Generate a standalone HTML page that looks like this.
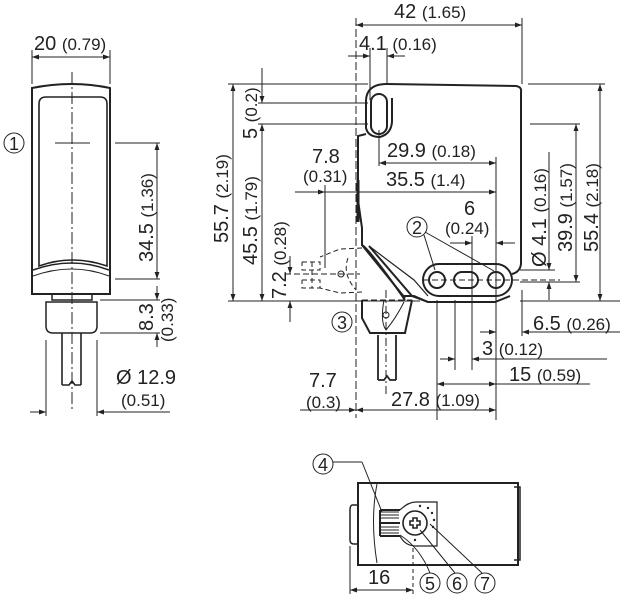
<!DOCTYPE html>
<html><head><style>
html,body{margin:0;padding:0;background:#fff;}
svg{display:block;}
text{font-family:"Liberation Sans",sans-serif;fill:#222;}
.d{font-size:20px;}
.s{font-size:17px;}
.c{font-size:18px;text-anchor:middle;}
</style></head><body>
<svg width="620" height="600" viewBox="0 0 620 600" xmlns="http://www.w3.org/2000/svg">
<defs>
<marker id="a" viewBox="0 0 10 10" refX="10" refY="5" markerWidth="9" markerHeight="7" orient="auto-start-reverse" markerUnits="userSpaceOnUse"><path d="M0,1.5L10,5L0,8.5z" fill="#222"/></marker>
</defs>
<g stroke="#222" fill="none" stroke-width="1">
<line x1="32" y1="50" x2="32" y2="84"/><line x1="110" y1="50" x2="110" y2="84"/>
<line x1="32" y1="57" x2="110" y2="57" marker-start="url(#a)" marker-end="url(#a)"/>
<path d="M32,88 Q72,80 110,88 L110,294 L32,294 Z" stroke-width="2"/>
<path d="M39,104 Q39,97 46,97 L100,97 Q107,97 107,104 L107,266 Q72,254 39,266 Z" stroke-width="1.6"/>
<path d="M33,270 Q72,256 109,270" stroke-width="1.5"/><path d="M33,276 Q72,262 109,276"/>
<path d="M52,294 L52,300 L92,300 L92,294 M46,302 L97,302 L97,326 Q97,333 90,333 L53,333 Q46,333 46,326 Z" stroke-width="1.5"/>
<path d="M62,333 L62,385 M81,333 L81,385 M62,385 L69,385 L72,381 L75,385 L81,385" stroke-width="1.6"/>
<line x1="72" y1="72" x2="72" y2="412" stroke-dasharray="12,3,2,3"/>
<line x1="55" y1="143" x2="90" y2="143"/>
<circle cx="14" cy="143" r="10"/>
<line x1="115" y1="143" x2="160" y2="143"/><line x1="115" y1="279" x2="160" y2="279"/>
<line x1="157" y1="143" x2="157" y2="279" marker-start="url(#a)" marker-end="url(#a)"/>
<line x1="100" y1="300" x2="160" y2="300"/><line x1="100" y1="333" x2="160" y2="333"/>
<line x1="157" y1="286" x2="157" y2="300" marker-end="url(#a)"/><line x1="157" y1="347" x2="157" y2="333" marker-end="url(#a)"/>
<line x1="46" y1="340" x2="46" y2="416"/><line x1="97" y1="340" x2="97" y2="416"/>
<line x1="30" y1="412" x2="46" y2="412" marker-end="url(#a)"/><line x1="170" y1="412" x2="97" y2="412" marker-end="url(#a)"/>

<line x1="356" y1="18" x2="356" y2="418" stroke-dasharray="8,3"/>
<line x1="522" y1="18" x2="522" y2="84"/>
<line x1="356" y1="25" x2="522" y2="25" marker-start="url(#a)" marker-end="url(#a)"/>
<line x1="370" y1="48" x2="370" y2="100"/><line x1="387" y1="48" x2="387" y2="84"/>
<line x1="348" y1="56" x2="370" y2="56" marker-end="url(#a)"/><line x1="405" y1="56" x2="387" y2="56" marker-end="url(#a)"/>
<path d="M387,84 L516,86 Q522,87 521,92 L521,264 Q520,272 512,274 M510,296 L495,302 L428,302 L414,296 L404,296" stroke-width="2"/>
<path d="M387,84 Q367,84 366,100 L366,128 Q368,137 380,137 Q391,134 392,122 L392,98" stroke-width="2"/>
<rect x="371" y="94" width="16" height="40" rx="8" stroke-width="2"/>
<path d="M366,134 L358,136 L358,200 L362,228 L362,245 Q370,250 405,300" stroke-width="2"/>
<line x1="358" y1="180" x2="358" y2="222" stroke-width="3"/>
<path d="M362,245 L405,298 M369,246 L412,296 L428,302" stroke-width="2"/>
<path d="M369,246 L414,280 L428,296" stroke-width="1.2"/>
<path d="M362,300 L362,318 L370,333 L405,333 L412,300" stroke-width="2"/>
<path d="M362,300 L412,300" stroke-dasharray="6,3"/>
<path d="M384,300 Q380,322 386,330 Q396,318 404,302" />
<circle cx="386" cy="315" r="3"/>
<path d="M378,335 L378,380 M396,335 L396,380 M378,380 L384,380 L387,376 L390,380 L396,380" stroke-width="1.8"/>
<line x1="386" y1="290" x2="386" y2="395" stroke-dasharray="8,3,2,3"/>
<path d="M362,248 L340,249 L320,257 M362,292 L340,293 L320,288 M302,262 L320,262 L320,270 L302,270 L302,262 M302,280 L320,280 L320,288 L302,288 L302,280 M312,262 L312,288" stroke-dasharray="5,3"/>
<circle cx="341" cy="274" r="3"/><path d="M348,258 Q342,274 356,290" stroke-dasharray="5,3"/>
<line x1="285" y1="274" x2="360" y2="274" stroke-dasharray="6,3"/>
<rect x="423" y="264" width="89" height="32" rx="16" stroke-width="2"/>
<circle cx="437" cy="280" r="8" stroke-width="2"/>
<rect x="454" y="272" width="24" height="16" rx="8" stroke-width="2"/>
<circle cx="496" cy="280" r="8" stroke-width="2"/>
<line x1="423" y1="280" x2="560" y2="280" stroke-dasharray="6,3"/>
<circle cx="417" cy="227" r="10"/>
<line x1="424" y1="235" x2="435" y2="270"/><line x1="425" y1="232" x2="494" y2="271"/>
<line x1="228" y1="84" x2="368" y2="84"/><line x1="258" y1="103" x2="368" y2="103"/>
<line x1="258" y1="124" x2="368" y2="124"/><line x1="228" y1="301" x2="420" y2="301"/>
<line x1="233" y1="84" x2="233" y2="301" marker-start="url(#a)" marker-end="url(#a)"/>
<line x1="262" y1="124" x2="262" y2="301" marker-start="url(#a)" marker-end="url(#a)"/>
<line x1="262" y1="68" x2="262" y2="103" marker-end="url(#a)"/>
<line x1="290" y1="256" x2="290" y2="274" marker-end="url(#a)"/><line x1="290" y1="322" x2="290" y2="301" marker-end="url(#a)"/>
<line x1="528" y1="84" x2="605" y2="84"/><line x1="530" y1="124" x2="580" y2="124"/>
<line x1="520" y1="270" x2="555" y2="270"/><line x1="520" y1="282" x2="580" y2="282"/>
<line x1="600" y1="84" x2="600" y2="301" marker-start="url(#a)" marker-end="url(#a)"/>
<line x1="576" y1="124" x2="576" y2="282" marker-start="url(#a)" marker-end="url(#a)"/>
<line x1="549" y1="152" x2="549" y2="270" marker-end="url(#a)"/><line x1="549" y1="300" x2="549" y2="282" marker-end="url(#a)"/>
<line x1="520" y1="301" x2="620" y2="301"/>
<line x1="379" y1="130" x2="379" y2="166"/>
<line x1="496" y1="157" x2="496" y2="420"/>
<line x1="496" y1="163" x2="379" y2="163" marker-end="url(#a)"/><line x1="379" y1="163" x2="496" y2="163" marker-end="url(#a)"/>
<line x1="325" y1="185" x2="325" y2="268"/>
<line x1="295" y1="192" x2="325" y2="192" marker-end="url(#a)"/><line x1="325" y1="192" x2="496" y2="192" marker-end="url(#a)"/>
<line x1="472" y1="236" x2="472" y2="370"/>
<line x1="450" y1="243" x2="472" y2="243" marker-end="url(#a)"/><line x1="515" y1="243" x2="496" y2="243" marker-end="url(#a)"/>
<line x1="522" y1="290" x2="522" y2="336"/>
<line x1="480" y1="332" x2="496" y2="332" marker-end="url(#a)"/><line x1="620" y1="332" x2="522" y2="332" marker-end="url(#a)"/>
<line x1="437" y1="300" x2="437" y2="420"/><line x1="455" y1="300" x2="455" y2="370"/>
<line x1="440" y1="359" x2="455" y2="359" marker-end="url(#a)"/><line x1="607" y1="359" x2="472" y2="359" marker-end="url(#a)"/>
<line x1="437" y1="384" x2="496" y2="384" marker-start="url(#a)" marker-end="url(#a)"/><line x1="496" y1="384" x2="590" y2="384"/>
<line x1="300" y1="410" x2="356" y2="410" marker-end="url(#a)"/>
<line x1="356" y1="410" x2="496" y2="410" marker-start="url(#a)" marker-end="url(#a)"/>
<circle cx="342" cy="322" r="10"/>

<path d="M358,483 L518,483 L518,565 L358,565 Z" stroke-width="2"/>
<path d="M514,487 L520,487 L520,560 L514,560" stroke-width="1.5"/>
<path d="M358,505 L352,505 Q350,506 350,510 L350,540 Q350,544 354,544 L358,544" stroke-width="1.5"/>
<path d="M377,484 Q370,520 377,563"/>
<path d="M380,510 L400,510 M380,536 L400,536 M380,510 L380,536 M380,523 L400,523" stroke-width="2"/>
<path d="M381,512 L399,512 M381,515 L399,515 M381,518 L399,518 M381,527 L399,527 M381,530 L399,530 M381,533 L399,533" stroke-width="1"/>
<path d="M400,510 Q408,502 416,502 L437,502 L437,546 L416,546 Q405,546 400,536" stroke-width="1.2"/>
<circle cx="415" cy="523" r="12" stroke-width="1.6"/>
<path d="M410,521 L413,521 L413,518 L417,518 L417,521 L420,521 L420,525 L417,525 L417,528 L413,528 L413,525 L410,525 Z" stroke-width="1.6"/>
<line x1="413" y1="548" x2="413" y2="594" stroke-dasharray="4,3"/>
<line x1="350" y1="546" x2="350" y2="594"/>
<line x1="350" y1="590" x2="413" y2="590" marker-start="url(#a)" marker-end="url(#a)"/>
<circle cx="323" cy="464" r="10"/><line x1="333" y1="462" x2="362" y2="462"/><line x1="362" y1="462" x2="382" y2="512"/>
<circle cx="430" cy="583" r="10"/><circle cx="457" cy="583" r="10"/><circle cx="485" cy="583" r="10"/>
<path d="M400,535 Q420,548 430,573"/><line x1="420" y1="530" x2="455" y2="573"/><line x1="430" y1="524" x2="482" y2="573"/>
</g>
<g fill="#222" stroke="none">
<circle cx="432" cy="513" r="1.2"/><circle cx="428" cy="508" r="1.2"/><circle cx="420" cy="506" r="1.2"/><circle cx="434" cy="520" r="1.2"/><circle cx="433" cy="527" r="1.2"/><circle cx="415" cy="540" r="1.2"/>
</g>
<text class="d" x="34" y="50">20 <tspan style="font-size:17px">(0.79)</tspan></text>
<text class="c" x="14" y="150">1</text>
<text class="d" transform="translate(153,262) rotate(-90)">34.5 <tspan style="font-size:17px">(1.36)</tspan></text>
<text class="d" transform="translate(153,331) rotate(-90)">8.3</text>
<text class="s" transform="translate(173,342) rotate(-90)">(0.33)</text>
<text class="d" x="116" y="384">Ø 12.9</text>
<text class="s" x="121" y="406">(0.51)</text>

<text class="d" x="394" y="18">42 <tspan style="font-size:17px">(1.65)</tspan></text>
<text class="d" x="359" y="50">4.1 <tspan style="font-size:17px">(0.16)</tspan></text>
<text class="d" transform="translate(228,243) rotate(-90)">55.7 <tspan style="font-size:17px">(2.19)</tspan></text>
<text class="d" transform="translate(257,265) rotate(-90)">45.5 <tspan style="font-size:17px">(1.79)</tspan></text>
<text class="d" transform="translate(257,139) rotate(-90)">5 <tspan style="font-size:17px">(0.2)</tspan></text>
<text class="d" transform="translate(286,299) rotate(-90)">7.2 <tspan style="font-size:17px">(0.28)</tspan></text>
<text class="d" x="312" y="163">7.8</text>
<text class="s" x="303" y="182">(0.31)</text>
<text class="d" x="387" y="157">29.9 <tspan style="font-size:17px">(0.18)</tspan></text>
<text class="d" x="386" y="186">35.5 <tspan style="font-size:17px">(1.4)</tspan></text>
<text class="d" x="464" y="215">6</text>
<text class="s" x="445" y="234">(0.24)</text>
<text class="c" x="417" y="234">2</text>
<text class="d" transform="translate(546,267) rotate(-90)">Ø 4.1 <tspan style="font-size:17px">(0.16)</tspan></text>
<text class="d" transform="translate(572,252) rotate(-90)">39.9 <tspan style="font-size:17px">(1.57)</tspan></text>
<text class="d" transform="translate(598,252) rotate(-90)">55.4 <tspan style="font-size:17px">(2.18)</tspan></text>
<text class="c" x="342" y="329">3</text>
<text class="d" x="533" y="330">6.5 <tspan style="font-size:17px">(0.26)</tspan></text>
<text class="d" x="482" y="355">3 <tspan style="font-size:17px">(0.12)</tspan></text>
<text class="d" x="509" y="381">15 <tspan style="font-size:17px">(0.59)</tspan></text>
<text class="d" x="309" y="387">7.7</text>
<text class="s" x="306" y="408">(0.3)</text>
<text class="d" x="391" y="406">27.8 <tspan style="font-size:17px">(1.09)</tspan></text>
<text class="c" x="323" y="471">4</text>
<text class="d" x="368" y="584">16</text>
<text class="c" x="430" y="590">5</text>
<text class="c" x="457" y="590">6</text>
<text class="c" x="485" y="590">7</text>
</svg>
</body></html>
